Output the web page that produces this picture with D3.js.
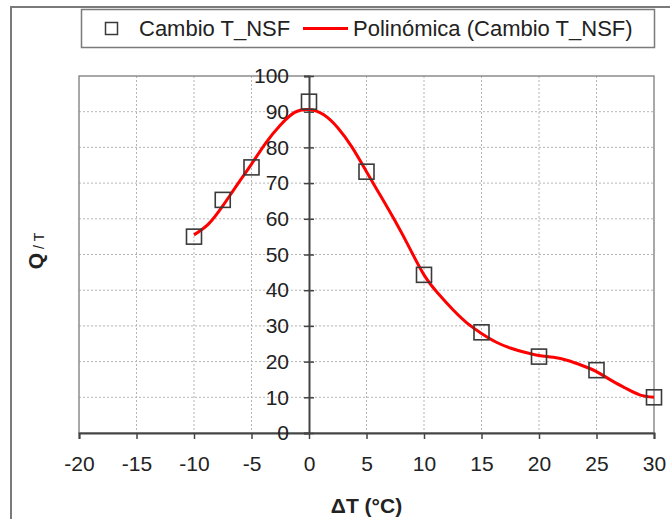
<!DOCTYPE html>
<html><head><meta charset="utf-8">
<script src="https://cdn.jsdelivr.net/npm/d3@7"></script>
<style>
html,body{margin:0;padding:0;background:#fff;}
svg{display:block;font-family:"Liberation Sans",Arial,sans-serif;}
</style></head>
<body>
<svg id="c" width="670" height="519"></svg>
<script>
// Data points (Cambio T_NSF)
const pointX = [-10, -7.5, -5, 0, 5, 10, 15, 20, 25, 30];
const pointY = [55, 65.3, 74.4, 92.8, 73.2, 44.3, 28.2, 21.4, 17.6, 10];
// Trendline (Polinómica)
const curveX = [-10, -8.75, -7.5, -6.25, -5, -3.75, -2.5, -1.25, 0, 1.25, 2.5, 3.75, 5, 6.25, 7.5, 8.75, 10, 11.25, 12.5, 13.75, 15, 16.25, 17.5, 18.75, 20, 21.25, 22.5, 23.75, 25, 26.25, 27.5, 28.75, 30];
const curveY = [55.5, 58.5, 63.6, 69.5, 75.3, 81.3, 86.2, 89.8, 90.6, 89.2, 85.5, 80.0, 73.2, 66.3, 59.3, 51.8, 44.3, 39.0, 34.6, 30.8, 27.9, 25.5, 23.8, 22.6, 21.7, 21.2, 20.3, 18.9, 17.2, 14.8, 12.6, 10.7, 10.0];
const xTicks = [-20, -15, -10, -5, 0, 5, 10, 15, 20, 25, 30];
const yTicks = [0, 10, 20, 30, 40, 50, 60, 70, 80, 90, 100];
const legendLabels = ["Cambio T_NSF", "Polinómica (Cambio T_NSF)"];

const svg = d3.select("#c");
const x = d3.scaleLinear().domain([-20, 30]).range([79, 654]);
const y = d3.scaleLinear().domain([0, 100]).range([433, 76]);

// outer chart border
svg.append("path").attr("d", "M11,520 L11,7 L672,7")
  .attr("fill", "none").attr("stroke", "#7a7a7a").attr("stroke-width", 2);

// grid
const grid = svg.append("g");
xTicks.filter(d => d !== -20 && d !== 30 && d !== 0).forEach(d => {
  grid.append("line").attr("x1", x(d)).attr("x2", x(d)).attr("y1", y(100)).attr("y2", y(0))
    .attr("stroke", "#b4b4b4").attr("stroke-width", 1).attr("stroke-dasharray", "2,2");
});
yTicks.filter(d => d !== 0 && d !== 100).forEach(d => {
  grid.append("line").attr("x1", x(-20)).attr("x2", x(30)).attr("y1", y(d)).attr("y2", y(d))
    .attr("stroke", "#b4b4b4").attr("stroke-width", 1).attr("stroke-dasharray", "2,2");
});
// plot frame
svg.append("rect").attr("x", x(-20)).attr("y", y(100)).attr("width", x(30) - x(-20)).attr("height", y(0) - y(100))
  .attr("fill", "none").attr("stroke", "#8c8c8c").attr("stroke-width", 1.5);

// x axis
const xAxis = svg.append("g").attr("transform", `translate(0,${y(0)})`)
  .call(d3.axisBottom(x).tickValues(xTicks).tickSize(6).tickPadding(17).tickFormat(d => String(d)));
xAxis.select(".domain").attr("stroke", "#444").attr("stroke-width", 2);
xAxis.selectAll(".tick line").attr("stroke", "#444").attr("stroke-width", 1.5);
xAxis.selectAll("text").attr("font-size", 21).attr("fill", "#222").style("font-family", "Liberation Sans, Arial, sans-serif");

// y axis at x=0
const yAxis = svg.append("g").attr("transform", `translate(${x(0)},0)`)
  .call(d3.axisLeft(y).tickValues(yTicks).tickSize(5).tickPadding(15).tickFormat(d => String(d)));
yAxis.select(".domain").attr("stroke", "#444").attr("stroke-width", 2);
yAxis.selectAll(".tick line").attr("stroke", "#444").attr("stroke-width", 1.5);
yAxis.selectAll(".tick").append("line").attr("x1", 0).attr("x2", 5).attr("stroke", "#444").attr("stroke-width", 1.5);
yAxis.selectAll("text").attr("font-size", 21).attr("fill", "#222").style("font-family", "Liberation Sans, Arial, sans-serif");

// trend line
const curveData = curveX.map((d, i) => [d, curveY[i]]);
svg.append("path").datum(curveData)
  .attr("d", d3.line().x(d => x(d[0])).y(d => y(d[1])).curve(d3.curveNatural))
  .attr("fill", "none").attr("stroke", "#ff0000").attr("stroke-width", 3);

// points
const sq = 15;
svg.append("g").selectAll("rect").data(pointX.map((d, i) => [d, pointY[i]])).join("rect")
  .attr("x", d => x(d[0]) - sq / 2).attr("y", d => y(d[1]) - sq / 2)
  .attr("width", sq).attr("height", sq)
  .attr("fill", "none").attr("stroke", "#3a3a3a").attr("stroke-width", 1.6);

// axis titles
svg.append("text").attr("x", x(5)).attr("y", 513).attr("text-anchor", "middle")
  .attr("font-size", 21).attr("font-weight", "bold").attr("fill", "#222").text("ΔT (°C)");
const yt = svg.append("text").attr("transform", "translate(43,251) rotate(-90)").attr("text-anchor", "middle")
  .attr("font-weight", "bold").attr("fill", "#222");
yt.append("tspan").attr("font-size", 21).text("Q");
yt.append("tspan").attr("font-size", 14).attr("font-weight", "normal").attr("dx", 4).attr("dy", 1).text("/ T");

// legend
const lg = svg.append("g");
lg.append("rect").attr("x", 81.5).attr("y", 9.5).attr("width", 573).attr("height", 38)
  .attr("fill", "#fff").attr("stroke", "#7a7a7a").attr("stroke-width", 1.5);
lg.append("rect").attr("x", 105.5).attr("y", 22.5).attr("width", 12).attr("height", 12)
  .attr("fill", "none").attr("stroke", "#3a3a3a").attr("stroke-width", 1.5);
lg.append("text").attr("x", 139).attr("y", 36).attr("font-size", 22).attr("fill", "#222").text(legendLabels[0]);
lg.append("line").attr("x1", 303).attr("x2", 348).attr("y1", 28.5).attr("y2", 28.5)
  .attr("stroke", "#ff0000").attr("stroke-width", 3);
lg.append("text").attr("x", 353).attr("y", 36).attr("font-size", 22).attr("fill", "#222").text(legendLabels[1]);
</script>
</body></html>
